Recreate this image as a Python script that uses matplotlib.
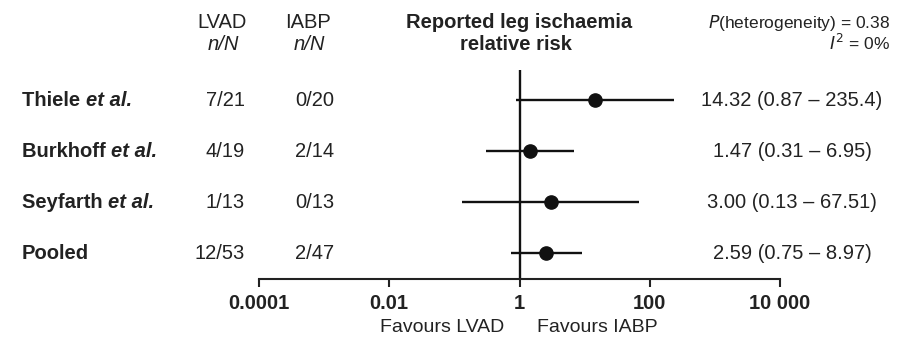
import matplotlib
matplotlib.use("Agg")
import matplotlib.pyplot as plt
import matplotlib.transforms as mtransforms

plt.rcParams['font.family'] = ['Liberation Sans', 'DejaVu Sans']

studies = ["Thiele", "Burkhoff", "Seyfarth", "Pooled"]
study_suffix = ["et al.", "et al.", "et al.", ""]
lvad = ["7/21", "4/19", "1/13", "12/53"]
iabp = ["0/20", "2/14", "0/13", "2/47"]
rr = [14.32, 1.47, 3.00, 2.59]
lo = [0.87, 0.31, 0.13, 0.75]
hi = [235.4, 6.95, 67.51, 8.97]
rr_text = ["14.32 (0.87 \u2013 235.4)", "1.47 (0.31 \u2013 6.95)",
           "3.00 (0.13 \u2013 67.51)", "2.59 (0.75 \u2013 8.97)"]
ticks = [1e-4, 1e-2, 1, 1e2, 1e4]
tick_labels = ["0.0001", "0.01", "1", "100", "10 000"]

W, H = 901, 338
fig = plt.figure(figsize=(W / 100, H / 100), dpi=100)
def fx(px): return px / W
def fy(py): return 1 - py / H

FS = 14.5
ax_l, ax_r, ax_t, ax_b = 259, 780, 70, 279
ax = fig.add_axes([fx(ax_l), fy(ax_b), fx(ax_r - ax_l), (ax_b - ax_t) / H])
ax.set_xscale('log')
ax.set_xlim(1e-4, 1e4)
ax.set_ylim(3.51, -0.59)
for s in ['top', 'right', 'left']:
    ax.spines[s].set_visible(False)
ax.spines['bottom'].set_linewidth(1.5)
ax.spines['bottom'].set_color('#222222')
ax.set_yticks([])
ax.set_xticks(ticks)
ax.set_xticklabels(tick_labels, fontweight='bold', fontsize=14.5, color='#222222')
ax.minorticks_off()
ax.tick_params(axis='x', which='major', direction='out', length=6, width=1.5,
               pad=5, color='#222222')
ax.patch.set_alpha(0)

ax.axvline(1, color='#111111', lw=1.7, zorder=2)
ypos = list(range(len(studies)))
ax.hlines(ypos, lo, hi, color='#111111', lw=1.7, zorder=3)
ax.plot(rr, ypos, 'o', color='#111111', ms=9.5, zorder=4)

trans = mtransforms.blended_transform_factory(fig.transFigure, ax.transData)
txtc = '#222222'
fig.canvas.draw()
renderer = fig.canvas.get_renderer()
for i, (name, suf) in enumerate(zip(studies, study_suffix)):
    t = ax.text(fx(22), i, name + (" " if suf else ""), transform=trans, ha='left', va='center',
                fontsize=FS, fontweight='bold', color=txtc)
    if suf:
        bb = t.get_window_extent(renderer=renderer)
        ax.text(bb.x1 / W, i, suf, transform=trans, ha='left', va='center',
                fontsize=FS, fontweight='bold', fontstyle='italic', color=txtc)
    ax.text(fx(245), i, lvad[i], transform=trans, ha='right', va='center', fontsize=FS, color=txtc)
    ax.text(fx(334), i, iabp[i], transform=trans, ha='right', va='center', fontsize=FS, color=txtc)
    ax.text(fx(792), i, rr_text[i], transform=trans, ha='center', va='center', fontsize=FS, color=txtc)

# headers
fig.text(fx(222), fy(22), "LVAD", ha='center', va='center', fontsize=FS, color=txtc)
fig.text(fx(223), fy(45), "n/N", ha='center', va='center', fontsize=FS, fontstyle='italic', color=txtc)
fig.text(fx(308), fy(22), "IABP", ha='center', va='center', fontsize=FS, color=txtc)
fig.text(fx(309), fy(45), "n/N", ha='center', va='center', fontsize=FS, fontstyle='italic', color=txtc)
fig.text(fx(519), fy(22), "Reported leg ischaemia", ha='center', va='center', fontsize=FS,
         fontweight='bold', color=txtc)
fig.text(fx(516), fy(45), "relative risk", ha='center', va='center', fontsize=FS,
         fontweight='bold', color=txtc)
fig.text(fx(890), fy(23), "$\\it{P}$(heterogeneity) = 0.38", ha='right', va='center',
         fontsize=12.5, color=txtc)
fig.text(fx(890), fy(43), "$\\it{I}^2$ = 0%", ha='right', va='center', fontsize=12.5, color=txtc)

fig.text(fx(442), fy(328), "Favours LVAD", ha='center', va='center', fontsize=14, color=txtc)
fig.text(fx(597), fy(328), "Favours IABP", ha='center', va='center', fontsize=14, color=txtc)

fig.savefig("out.png", dpi=100)
